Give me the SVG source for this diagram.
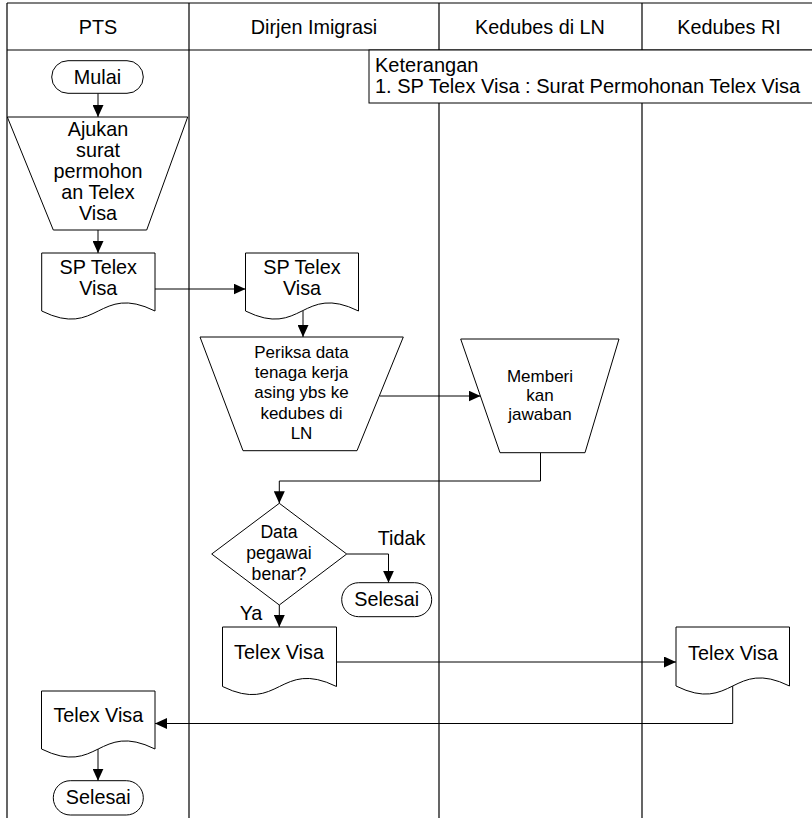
<svg xmlns="http://www.w3.org/2000/svg" width="812" height="818" viewBox="0 0 812 818">
  <defs>
    <marker id="arrow" markerUnits="userSpaceOnUse" markerWidth="12" markerHeight="11" refX="12" refY="5.5" orient="auto">
      <path d="M0,0 L12,5.5 L0,11 Z" fill="#000"/>
    </marker>
    <style>
      .lane { stroke: #000; stroke-width: 1.2; fill: none; }
      .shape { fill: #fff; stroke: #000; stroke-width: 1; }
      .conn { fill: none; stroke: #000; stroke-width: 1; marker-end: url(#arrow); }
      .plain { fill: none; stroke: #000; stroke-width: 1; }
      text { font-family: "Liberation Sans", Arial, sans-serif; fill: #000; }
      .t { font-size: 19.8px; text-anchor: middle; }
      .s { font-size: 17px; text-anchor: middle; }
      .d { font-size: 17.6px; text-anchor: middle; }
      .note { font-size: 20px; }
    </style>
  </defs>

  <rect width="812" height="818" fill="#fff"/>

  <!-- swimlane frame -->
  <g id="lanes">
    <path class="lane" d="M7,3 H812 M7,50 H812 M7,3 V818 M189,3 V818 M439,3 V50 M439,103 V818 M642,3 V50 M642,103 V818"/>
    <text class="t" x="98" y="34">PTS</text>
    <text class="t" x="314" y="34">Dirjen Imigrasi</text>
    <text class="t" x="540" y="34">Kedubes di LN</text>
    <text class="t" x="729" y="34">Kedubes RI</text>
  </g>

  <!-- legend -->
  <g id="keterangan">
    <rect class="shape" x="369" y="50" width="460" height="53"/>
    <text class="note" x="375" y="72">Keterangan</text>
    <text class="note" x="375" y="93">1. SP Telex Visa : Surat Permohonan Telex Visa</text>
  </g>

  <!-- connectors -->
  <g id="connectors">
    <path class="conn" d="M98,93.3 V117"/>
    <path class="conn" d="M98,230 V253"/>
    <path class="conn" d="M155,289 H245.5"/>
    <path class="conn" d="M303,311 V337"/>
    <path class="conn" d="M380,396 H480.5"/>
    <path class="conn" d="M540.5,452.7 V481 H279.3 V503.3"/>
    <path class="conn" d="M346.7,554 H388.5 V582.7"/>
    <path class="conn" d="M279.3,605 V627"/>
    <path class="conn" d="M336.5,662 H676"/>
    <path class="conn" d="M732.7,686 V723.5 H155"/>
    <path class="conn" d="M98,749 V780.7"/>
    <text class="t" x="401.5" y="545">Tidak</text>
    <text class="t" x="251" y="620">Ya</text>
  </g>

  <!-- PTS lane -->
  <g id="mulai">
    <rect class="shape" x="51.7" y="60.7" width="91.6" height="32.6" rx="16.3"/>
    <text class="t" x="97.5" y="84">Mulai</text>
  </g>

  <g id="ajukan">
    <path class="shape" d="M7.3,117 H187.7 L146.7,230 H53.3 Z"/>
    <text class="t" x="98" y="136">Ajukan</text>
    <text class="t" x="98" y="157">surat</text>
    <text class="t" x="98" y="178">permohon</text>
    <text class="t" x="98" y="199">an Telex</text>
    <text class="t" x="98" y="220">Visa</text>
  </g>

  <g id="sp-telex-pts">
    <path class="shape" d="M41.7,253 H155 V311 C98.3,283 98.3,339 41.7,311 Z"/>
    <text class="t" x="98.3" y="274">SP Telex</text>
    <text class="t" x="98.3" y="295">Visa</text>
  </g>

  <g id="telex-pts">
    <path class="shape" d="M41.5,691 H155 V749 C98.2,721 98.2,777 41.5,749 Z"/>
    <text class="t" x="98.3" y="721.5">Telex Visa</text>
  </g>

  <g id="selesai-pts">
    <rect class="shape" x="53.3" y="780.7" width="90" height="34.3" rx="17"/>
    <text class="t" x="98.3" y="804">Selesai</text>
  </g>

  <!-- Dirjen Imigrasi lane -->
  <g id="sp-telex-dirjen">
    <path class="shape" d="M245.5,253 H358.5 V311 C302,283 302,339 245.5,311 Z"/>
    <text class="t" x="302" y="274">SP Telex</text>
    <text class="t" x="302" y="295">Visa</text>
  </g>

  <g id="periksa">
    <path class="shape" d="M200,337 H403.3 L357,450.7 H243 Z"/>
    <text class="s" x="301.5" y="358">Periksa data</text>
    <text class="s" x="301.5" y="378">tenaga kerja</text>
    <text class="s" x="301.5" y="398">asing ybs  ke</text>
    <text class="s" x="301.5" y="418.5">kedubes di</text>
    <text class="s" x="301.5" y="439">LN</text>
  </g>

  <g id="keputusan">
    <path class="shape" d="M279.3,503.3 L346.7,554 L279.3,605 L211.7,554 Z"/>
    <text class="d" x="279" y="538">Data</text>
    <text class="d" x="279" y="559">pegawai</text>
    <text class="d" x="279" y="580">benar?</text>
  </g>

  <g id="selesai-dirjen">
    <rect class="shape" x="341.7" y="582.7" width="90" height="34" rx="17"/>
    <text class="t" x="386.7" y="606">Selesai</text>
  </g>

  <g id="telex-dirjen">
    <path class="shape" d="M222.5,627 H336.5 V686.5 C279.5,658.5 279.5,714.5 222.5,686.5 Z"/>
    <text class="t" x="279" y="659">Telex Visa</text>
  </g>

  <!-- Kedubes di LN lane -->
  <g id="memberikan">
    <path class="shape" d="M460.7,339 H619 L585,452.7 H500 Z"/>
    <text class="s" x="540" y="382">Memberi</text>
    <text class="s" x="540" y="401">kan</text>
    <text class="s" x="540" y="420">jawaban</text>
  </g>

  <!-- Kedubes RI lane -->
  <g id="telex-kedubes-ri">
    <path class="shape" d="M676,627 H789.5 V686 C732.7,658 732.7,714 676,686 Z"/>
    <text class="t" x="733" y="659.5">Telex Visa</text>
  </g>
</svg>
